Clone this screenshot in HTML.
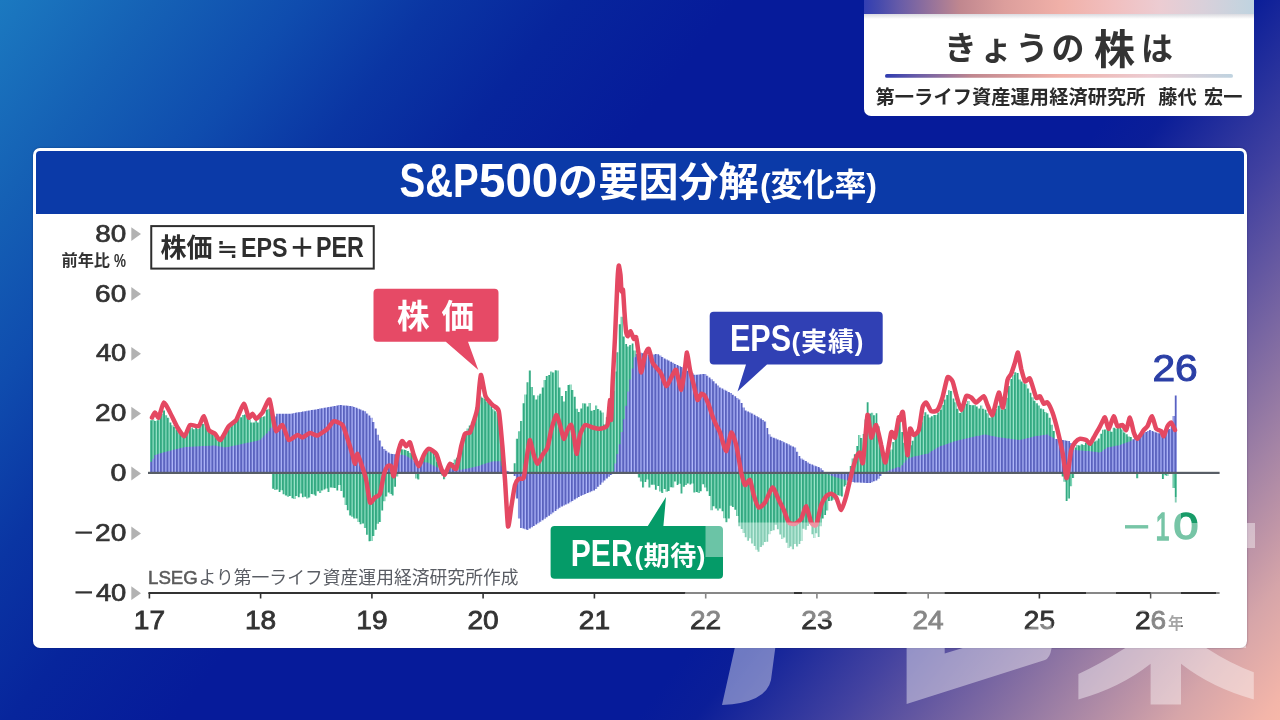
<!DOCTYPE html>
<html lang="ja">
<head>
<meta charset="utf-8">
<title>S&amp;P500の要因分解(変化率)</title>
<style>
html,body{margin:0;padding:0}
body{width:1280px;height:720px;overflow:hidden;position:relative;font-family:"Liberation Sans","Noto Sans CJK JP",sans-serif;
background:linear-gradient(128deg,#1b79c0 0%,#1561b5 8.5%,#0f4cae 16.4%,#0a35a3 23.7%,#07259c 31%,#061b9a 40%,#061b9a 65%,#0b1e98 68.2%,#26309c 72%,#4342a0 76%,#6357a1 80%,#8d74a3 85.3%,#a383a5 88%,#c297a7 91.8%,#d6a5a9 94.2%,#f3b5a9 99%,#f6b7a9 100%)}
.hdr{position:absolute;left:864px;top:0;width:390px;height:116px;background:#fff;border-radius:0 0 7px 7px;overflow:hidden}
.hdr .band{position:absolute;left:0;top:0;width:100%;height:14px;background:linear-gradient(90deg,#323eb3 0%,#4449ad 3.5%,#685ca8 9.2%,#c0878f 24.6%,#dc9e9c 36%,#f0b0a8 50.3%,#f1bfbf 64%,#ecccd2 75.9%,#d9d0da 87%,#c6d3de 96.4%,#bfd3e0 100%)}
.hdr .sh{position:absolute;left:0;top:14px;width:100%;height:5px;background:linear-gradient(180deg,rgba(120,120,140,.28),rgba(255,255,255,0))}
.panel{position:absolute;left:33px;top:148px;width:1213.5px;height:500px;background:#fff;border-radius:7px;box-shadow:0 0 2px rgba(0,8,60,.45)}
.panel .bar{position:absolute;left:3px;top:3px;right:3px;height:63px;background:#0b3aa8;border-radius:4px 4px 0 0}
.layer{position:absolute;left:0;top:0;will-change:transform}
</style>
</head>
<body>
<div class="hdr"><div class="band"></div><div class="sh"></div></div>
<div class="panel"><div class="bar"></div></div>
<svg class="layer" width="1280" height="720" viewBox="0 0 1280 720" font-family="'Liberation Sans', 'Noto Sans CJK JP', sans-serif">
<defs>
<pattern id="pb" x="150.4" y="0" width="3.21" height="8" patternUnits="userSpaceOnUse"><rect width="3.3" height="8" fill="#b0b7fa"/><rect width="2.0" height="8" fill="#5a62be"/></pattern>
<pattern id="pg" x="150.4" y="0" width="3.21" height="8" patternUnits="userSpaceOnUse"><rect width="3.3" height="8" fill="#9ee6cc"/><rect width="2.1" height="8" fill="#32a981"/></pattern>
<linearGradient id="ul" x1="0" x2="1" y1="0" y2="0"><stop offset="0" stop-color="#2e3bb0"/><stop offset="0.09" stop-color="#685ca8"/><stop offset="0.25" stop-color="#c0878f"/><stop offset="0.5" stop-color="#f0b0a8"/><stop offset="0.76" stop-color="#ecccd2"/><stop offset="1" stop-color="#bfd3e0"/></linearGradient>
</defs>
<rect x="885" y="74" width="348" height="3.8" rx="1.9" fill="url(#ul)"/>
<text transform="translate(95.3 241.6) scale(1.147 1)" font-size="24.29" font-weight="normal" fill="#333" stroke="#333" stroke-width="0.7">80</text>
<path d="M131.3 227.2L141 234.1L131.3 241z" fill="#b2b2b2"/>
<text transform="translate(95.1 301.5) scale(1.155 1)" font-size="24.29" font-weight="normal" fill="#333" stroke="#333" stroke-width="0.7">60</text>
<path d="M131.3 287L141 293.9L131.3 300.8z" fill="#b2b2b2"/>
<text transform="translate(95.9 361.3) scale(1.125 1)" font-size="24.29" font-weight="normal" fill="#333" stroke="#333" stroke-width="0.7">40</text>
<path d="M131.3 346.9L141 353.8L131.3 360.7z" fill="#b2b2b2"/>
<text transform="translate(95.1 421.2) scale(1.155 1)" font-size="24.29" font-weight="normal" fill="#333" stroke="#333" stroke-width="0.7">20</text>
<path d="M131.3 406.7L141 413.6L131.3 420.5z" fill="#b2b2b2"/>
<text transform="translate(110.4 481.1) scale(1.180 1)" font-size="24.29" font-weight="normal" fill="#333" stroke="#333" stroke-width="0.7">0</text>
<path d="M131.3 466.6L141 473.5L131.3 480.4z" fill="#b2b2b2"/>
<text transform="translate(95.1 540.9) scale(1.155 1)" font-size="24.29" font-weight="normal" fill="#333" stroke="#333" stroke-width="0.7">20</text>
<rect x="75.5" y="531.5" width="16.5" height="2.2" fill="#333"/>
<path d="M131.3 526.5L141 533.4L131.3 540.3z" fill="#b2b2b2"/>
<text transform="translate(95.9 600.8) scale(1.125 1)" font-size="24.29" font-weight="normal" fill="#333" stroke="#333" stroke-width="0.7">40</text>
<rect x="75.5" y="591.3" width="16.5" height="2.2" fill="#333"/>
<path d="M131.3 586.3L141 593.2L131.3 600.1z" fill="#b2b2b2"/>
<path fill="url(#pg)" d="M150 473V420.2H152.14V419.4H154.28V421.1H156.42V420.2H158.56V417.9H160.7V414.1H162.84V410.5H164.98V415.2H167.12V417.7H169.25V422.4H171.39V425.2H173.53V427.1H175.67V429.8H177.81V432.7H179.95V432.9H182.09V435.1H184.23V434.4H186.37V432.2H188.51V428.3H190.65V427.5H192.79V429.3H194.93V427.4H197.07V429.1H199.21V426H201.34V424H203.48V423.8H205.62V426.7H207.76V430.3H209.9V431.2H212.04V434.4H214.18V435.9H216.32V436.7H218.46V438.6H220.6V435.8H222.74V433.4H224.88V431.4H227.02V430.1H229.16V427.1H231.3V424.7H233.44V423.2H235.58V420.7H237.71V418.2H239.85V417.3H241.99V414.9H244.13V414.6H246.27V417.5H248.41V419.5H250.55V422.5H252.69V422.4H254.83V420.3H256.97V422.6H259.11V416.4H261.25V417.1H263.39V416.3H265.53V409.7H267.67V408.7H269.81V409.2H271.94V488.7H274.08V490H276.22V489.5H278.36V492.1H280.5V490.2H282.64V494.3H284.78V495.4H286.92V496.7H289.06V496H291.2V498.3H293.34V498.9H295.48V496.1H297.62V497.2H299.76V493.5H301.9V497.2H304.03V496.7H306.17V498.6H308.31V497.4H310.45V494H312.59V494.4H314.73V495.7H316.87V491.2H319.01V493.1H321.15V490.6H323.29V489.6H325.43V488.5H327.57V492.1H329.71V487.6H331.85V487.8H333.99V488.1H336.13V490.4H338.26V485.1H340.4V491.1H342.54V497.4H344.68V505.1H346.82V510.3H348.96V515.4H351.1V516.7H353.24V518.5H355.38V518.6H357.52V522.1H359.66V524.2H361.8V523.6H363.94V528.1H366.08V534.8H368.22V541.3H370.36V541.1H372.5V536H374.63V529.7H376.77V523.8H378.91V522H381.05V510.4H383.19V501.2H385.33V496.4H387.47V492.4H389.61V494.1H391.75V495.6H393.89V486.7H396.03V476.6H398.17V465.9H400.31V449.3H402.45V449.5H404.59V449.9H406.73V450.9H408.86V452.7H411V453.9H413.14V467.4H415.28V478.6H417.42V479.4H419.56V470.2H421.7V461H423.84V452.6H425.98V448.5H428.12V449.2H430.26V451.2H432.4V452.9H434.54V456.5H436.68V462H438.82V469.4H440.95V475.6H443.09V479.2H445.23V473zM447.4 473V469.6H449.51V466.3H451.65V463.1H453.79V459.5H455.93V457.7H458.07V454.8H460.21V447.6H462.35V439.6H464.49V432H466.63V428.5H468.77V425.4H470.91V421.7H473.05V416.3H475.19V407.4H477.32V399.7H479.46V396.4H481.6V397.7H483.74V399.1H485.88V402H488.02V403.1H490.16V406.3H492.3V409.3H494.44V411.2H496.58V413H498.72V414.3H500.86V445.6H503V468.8H505.14V473zM513.7 473V463.2H515.83V438.8H517.97V431.2H520.11V421H522.25V403.2H524.39V394.5H526.53V382.2H528.67V370.4H530.81V386.9H532.95V395.3H535.09V399.4H537.23V395.5H539.37V393.7H541.51V387.4H543.64V379.9H545.78V376.1H547.92V374.9H550.06V371.6H552.2V372.5H554.34V370.3H556.48V370.6H558.62V387.6H560.76V396H562.9V401.6H565.04V391H567.18V384.9H569.32V384.6H571.46V390H573.6V396.7H575.74V408.7H577.88V412.1H580.01V408.6H582.15V403.3H584.29V403.4H586.43V406.4H588.57V403H590.71V410.8H592.85V410.1H594.99V405.6H597.13V408.9H599.27V410.5H601.41V412.6H603.55V424.4H605.69V417.3H607.83V417.7H609.97V410.3H612.11V390.9H614.24V371.5H616.38V352.3H618.52V324.3H620.66V316.8H622.8V336.4H624.94V344H627.08V346.6H629.22V345.1H631.36V343.5H633.5V350.4H635.64V363.3H637.78V477.4H639.92V481.5H642.06V487.6H644.2V482H646.34V479.4H648.47V487.5H650.61V484.8H652.75V484.7H654.89V489.8H657.03V485.9H659.17V491.5H661.31V493.1H663.45V489.1H665.59V491.7H667.73V491H669.87V487.2H672.01V487.5H674.15V481.5H676.29V484.9H678.43V483.8H680.57V493.4H682.7V486.8H684.84V485H686.98V483.4H689.12V484.4H691.26V483.5H693.4V492.4H695.54V492.1H697.68V493H699.82V491.2H701.96V484.3H704.1V487.4H706.24V491.3H708.38V495.9H710.52V510.2H712.66V506.3H714.8V508.6H716.93V510.4H719.07V508.4H721.21V511.2H723.35V518.3H725.49V522.2H727.63V518.5H729.77V505.7H731.91V506.9H734.05V509.7H736.19V515.9H738.33V526.2H740.47V528.9H742.61V533H744.75V537.2H746.89V540.8H749.03V538.3H751.16V543.6H753.3V546.1H755.44V549.7H757.58V551.8H759.72V546.9H761.86V545.2H764V542.1H766.14V541.8H768.28V534.3H770.42V531.1H772.56V530.2H774.7V524.8H776.84V529.2H778.98V534.6H781.12V539.1H783.25V537.6H785.39V542.7H787.53V548H789.67V546.5H791.81V549.3H793.95V544H796.09V546.4H798.23V544H800.37V540.9H802.51V528.8H804.65V529.8H806.79V525.9H808.93V523.7H811.07V534.2H813.21V538.1H815.35V533.2H817.49V536.9H819.62V526.2H821.76V518.5H823.9V515H826.04V510.5H828.18V500.9H830.32V500.8H832.46V499.8H834.6V497.3H836.74V495.2H838.88V495.7H841.02V496.6H843.16V486.4H845.3V485.1H847.44V475.7H849.58V466.1H851.72V458.6H853.85V454.2H855.99V445.9H858.13V435H860.27V438.1H862.41V434.1H864.55V419.4H866.69V402.2H868.83V413.6H870.97V412.8H873.11V415.3H875.25V413.3H877.39V426.2H879.53V440.2H881.67V452.8H883.81V463.2H885.95V456.8H888.08V451.4H890.22V449.5H892.36V441.9H894.5V434.7H896.64V424.6H898.78V418.5H900.92V431.9H903.06V442.8H905.2V453.2H907.34V451.6H909.48V445.2H911.62V440.8H913.76V433.2H915.9V431.6H918.04V423.7H920.18V422.2H922.31V415.9H924.45V412.2H926.59V414.5H928.73V417.4H930.87V416.2H933.01V415H935.15V415.1H937.29V412.5H939.43V409.8H941.57V404.9H943.71V399.4H945.85V394.9H947.99V390.2H950.13V391.1H952.27V398.5H954.41V402.3H956.54V408.7H958.68V413.1H960.82V411.2H962.96V406.4H965.1V403.7H967.24V401H969.38V404.9H971.52V405.2H973.66V404.9H975.8V406.4H977.94V408.6H980.08V405.6H982.22V408.7H984.36V409.7H986.5V413.2H988.64V417.8H990.77V417H992.91V412.9H995.05V409.1H997.19V405.7H999.33V400.7H1001.47V409.8H1003.61V408.7H1005.75V397.7H1007.89V386.1H1010.03V379.1H1012.17V374.9H1014.31V372.2H1016.45V373.1H1018.59V379.6H1020.73V381.5H1022.87V383.3H1025V384.2H1027.14V388.5H1029.28V392.8H1031.42V397.2H1033.56V400.7H1035.7V403.2H1037.84V405.6H1039.98V408.4H1042.12V409.2H1044.26V412.1H1046.4V413.2H1048.54V417.8H1050.68V424.7H1052.82V431H1054.96V440.2H1057.1V456.1H1059.23V466.9H1061.37V476.6H1063.51V481.7H1065.65V500.9H1067.79V498.4H1069.93V486.3H1072.07V478H1074.21V447.4H1076.35V444.9H1078.49V445.4H1080.63V444.2H1082.77V444.9H1084.91V442.8H1087.05V441.8H1089.19V442.1H1091.33V441H1093.46V441.5H1095.6V440.4H1097.74V438.4H1099.88V433.7H1102.02V429.7H1104.16V429.4H1106.3V428.1H1108.44V428.5H1110.58V431.7H1112.72V427.7H1114.86V428.6H1117V426.9H1119.14V423.5H1121.28V429.5H1123.42V432.5H1125.56V434.3H1127.69V436.6H1129.83V436.9H1131.97V445H1134.11V473.4H1136.25V478.3H1138.39V473zM1155.5 473V473.8H1157.65V474H1159.79V473zM1161.9 473V479.1H1164.06V475.3H1166.2V476H1168.34V473zM1172.6 473V488H1174.76V502.5H1176.9V473z"/>
<path fill="url(#pb)" d="M150 473V461.8H152.14V458.7H154.28V454.9H156.42V454.3H158.56V453.6H160.7V453H162.84V452.3H164.98V451.7H167.12V451.2H169.25V450.7H171.39V450.1H173.53V449.6H175.67V449.1H177.81V448.5H179.95V448H182.09V447.5H184.23V447H186.37V446.9H188.51V446.8H190.65V446.7H192.79V446.6H194.93V446.5H197.07V446.3H199.21V446.2H201.34V446.1H203.48V446H205.62V445.9H207.76V445.8H209.9V445.7H212.04V445.6H214.18V445.6H216.32V446H218.46V446.4H220.6V446.8H222.74V447.3H224.88V447.3H227.02V446.9H229.16V446.5H231.3V446H233.44V445.6H235.58V445.2H237.71V444.7H239.85V444.3H241.99V443.8H244.13V443.3H246.27V442.8H248.41V442.4H250.55V441.9H252.69V441.4H254.83V440.9H256.97V440.4H259.11V439.8H261.25V437.7H263.39V435.5H265.53V433.4H267.67V431.3H269.81V427.7H271.94V422.2H274.08V416.6H276.22V413.8H278.36V413.8H280.5V413.8H282.64V413.8H284.78V413.8H286.92V413.8H289.06V413.7H291.2V413.4H293.34V413H295.48V412.6H297.62V412.3H299.76V411.9H301.9V411.5H304.03V411.2H306.17V410.8H308.31V410.5H310.45V410.1H312.59V409.7H314.73V409.4H316.87V409H319.01V408.6H321.15V408.2H323.29V407.8H325.43V407.4H327.57V407H329.71V406.7H331.85V406.3H333.99V405.9H336.13V405.5H338.26V405.1H340.4V405.1H342.54V405.4H344.68V405.6H346.82V405.8H348.96V406H351.1V406.2H353.24V407H355.38V407.8H357.52V408.7H359.66V409.5H361.8V410.4H363.94V411.3H366.08V413.4H368.22V415.5H370.36V417.7H372.5V421.9H374.63V428.4H376.77V434.7H378.91V440.6H381.05V446.5H383.19V449H385.33V450.8H387.47V452.5H389.61V453.8H391.75V454H393.89V454.2H396.03V454.3H398.17V454.5H400.31V454.7H402.45V454.9H404.59V455.4H406.73V456.7H408.86V458.1H411V459.4H413.14V460.8H415.28V461.4H417.42V461.6H419.56V461.8H421.7V462H423.84V462.2H425.98V462.5H428.12V463.3H430.26V464.4H432.4V465.5H434.54V466.6H436.68V467.6H438.82V468.7H440.95V469.8H443.09V469.7H445.23V469.4H447.37V469H449.51V468.8H451.65V469.1H453.79V469.4H455.93V469.6H458.07V469.9H460.21V469.7H462.35V469.3H464.49V468.8H466.63V468.4H468.77V467.9H470.91V467.4H473.05V467H475.19V466.5H477.32V466H479.46V465.2H481.6V464.5H483.74V463.8H485.88V463.1H488.02V462.4H490.16V461.7H492.3V461.2H494.44V461.2H496.58V461.2H498.72V461.2H500.86V465.7H503V470.1H505.14V470.7H507.28V471.3H509.42V471.9H511.55V472.5H513.69V475.9H515.83V498.6H517.97V518.6H520.11V527.9H522.25V528.6H524.39V529.3H526.53V529.9H528.67V528.6H530.81V527.3H532.95V525.9H535.09V524.6H537.23V523.2H539.37V521.7H541.51V520.2H543.64V518.7H545.78V517.2H547.92V515.7H550.06V514.2H552.2V512.5H554.34V510.9H556.48V509.3H558.62V507.7H560.76V506.6H562.9V505.5H565.04V504.4H567.18V503.4H569.32V502.3H571.46V500.9H573.6V499.6H575.74V498.2H577.88V496.9H580.01V495.8H582.15V494.9H584.29V494H586.43V493.1H588.57V492.2H590.71V491.3H592.85V490.4H594.99V488.9H597.13V486.8H599.27V484.7H601.41V482.5H603.55V480.4H605.69V478.5H607.83V476.8H609.97V475H612.11V471.4H614.24V463.6H616.38V454H618.52V444.3H620.66V432.1H622.8V419.3H624.94V405.8H627.08V391.5H629.22V379.5H631.36V368.4H633.5V357.2H635.64V354.1H637.78V353.1H639.92V352.7H642.06V353.3H644.2V353.8H646.34V354.4H648.47V354.9H650.61V354.7H652.75V354.4H654.89V354H657.03V354.2H659.17V355.6H661.31V357H663.45V358.4H665.59V359.6H667.73V360.6H669.87V361.7H672.01V362.8H674.15V363.9H676.29V364.9H678.43V366H680.57V367.1H682.7V368.1H684.84V369.3H686.98V370.7H689.12V372H691.26V373.3H693.4V374.7H695.54V374.8H697.68V374.5H699.82V374.3H701.96V374H704.1V373.9H706.24V375.7H708.38V377.5H710.52V379.2H712.66V381.2H714.8V383.4H716.93V385.5H719.07V387.6H721.21V388.6H723.35V389.7H725.49V390.8H727.63V391.9H729.77V393.1H731.91V394.7H734.05V396.3H736.19V397.9H738.33V399.5H740.47V403.1H742.61V407.4H744.75V410.4H746.89V411.5H749.03V412.5H751.16V413.6H753.3V414.7H755.44V415.9H757.58V417.3H759.72V418.6H761.86V420H764V421.5H766.14V427.9H768.28V434.3H770.42V436.8H772.56V437.7H774.7V438.6H776.84V439.4H778.98V440.3H781.12V441.1H783.25V442.2H785.39V443.2H787.53V444.3H789.67V445.4H791.81V446.4H793.95V447.5H796.09V451.8H798.23V456.1H800.37V458.4H802.51V459.7H804.65V461.1H806.79V462.4H808.93V463.7H811.07V464.6H813.21V465.4H815.35V466.2H817.49V467H819.62V468.2H821.76V470.3H823.9V472.5H826.04V473.6H828.18V474.6H830.32V475.7H832.46V476.6H834.6V477.2H836.74V477.8H838.88V478.5H841.02V479.1H843.16V479.8H845.3V480.3H847.44V480.9H849.58V481.4H851.72V481.9H853.85V482.5H855.99V482.6H858.13V482.6H860.27V482.7H862.41V482.8H864.55V482.9H866.69V482.9H868.83V483H870.97V482.2H873.11V481.3H875.25V480.5H877.39V478.8H879.53V476.1H881.67V473.6H883.81V472.6H885.95V471.5H888.08V470.4H890.22V469.5H892.36V468.7H894.5V467.9H896.64V467.1H898.78V467.4H900.92V465.2H903.06V462.7H905.2V460.2H907.34V458.4H909.48V457.7H911.62V457H913.76V456.3H915.9V455.9H918.04V455.4H920.18V455H922.31V454.6H924.45V454.1H926.59V453.7H928.73V452.4H930.87V451.1H933.01V449.8H935.15V448.5H937.29V447.2H939.43V446.1H941.57V445.4H943.71V444.7H945.85V443.9H947.99V443.2H950.13V442.5H952.27V441.8H954.41V441.1H956.54V440.6H958.68V440.1H960.82V439.5H962.96V439H965.1V438.5H967.24V437.9H969.38V437.4H971.52V437H973.66V436.6H975.8V436.1H977.94V435.7H980.08V435.3H982.22V434.8H984.36V434.6H986.5V435H988.64V435.4H990.77V435.9H992.91V436.3H995.05V436.7H997.19V437.2H999.33V437.6H1001.47V437.8H1003.61V438.1H1005.75V438.4H1007.89V438.6H1010.03V438.9H1012.17V439.2H1014.31V439.4H1016.45V439.7H1018.59V440H1020.73V439.6H1022.87V439H1025V438.5H1027.14V437.9H1029.28V437.4H1031.42V436.9H1033.56V436.3H1035.7V436H1037.84V435.7H1039.98V435.4H1042.12V435.1H1044.26V434.8H1046.4V434.5H1048.54V435.7H1050.68V436.9H1052.82V438.1H1054.96V438.9H1057.1V439.3H1059.23V439.6H1061.37V440H1063.51V440.3H1065.65V440.7H1067.79V441.1H1069.93V443H1072.07V446.7H1074.21V450H1076.35V450.2H1078.49V450.4H1080.63V450.6H1082.77V450.7H1084.91V450.9H1087.05V451.1H1089.19V451.3H1091.33V451.5H1093.46V451.8H1095.6V452.1H1097.74V452.4H1099.88V451.9H1102.02V450.4H1104.16V449H1106.3V447.6H1108.44V447.1H1110.58V446.7H1112.72V446.2H1114.86V445.8H1117V445.4H1119.14V444.9H1121.28V444.1H1123.42V443.3H1125.56V442.5H1127.69V441.7H1129.83V440.7H1131.97V439.3H1134.11V438H1136.25V436.7H1138.39V435.3H1140.53V434.2H1142.67V433.1H1144.81V432.1H1146.95V431H1149.09V430.1H1151.23V430.9H1153.37V431.7H1155.51V432.5H1157.65V433.3H1159.79V433.3H1161.92V432.3H1164.06V431.2H1166.2V430.1H1168.34V429H1170.48V424.1H1172.62V416H1174.76V395.5H1176.9V473z"/>
<rect x="148" y="471.8" width="1071.6" height="2.2" fill="#585e66"/>
<rect x="148.4" y="592" width="1071.2" height="2" fill="#333"/>
<rect x="148.6" y="593" width="1.6" height="5.5" fill="#333"/>
<text transform="translate(133.8 629.4) scale(1.087 1)" font-size="25.85" fill="#333" stroke="#333" stroke-width="0.8">17</text>
<rect x="259.8" y="593" width="1.6" height="5.5" fill="#333"/>
<text transform="translate(245 629.4) scale(1.087 1)" font-size="25.85" fill="#333" stroke="#333" stroke-width="0.8">18</text>
<rect x="371.1" y="593" width="1.6" height="5.5" fill="#333"/>
<text transform="translate(356.3 629.4) scale(1.087 1)" font-size="25.85" fill="#333" stroke="#333" stroke-width="0.8">19</text>
<rect x="482.3" y="593" width="1.6" height="5.5" fill="#333"/>
<text transform="translate(467.5 629.4) scale(1.087 1)" font-size="25.85" fill="#333" stroke="#333" stroke-width="0.8">20</text>
<rect x="593.6" y="593" width="1.6" height="5.5" fill="#333"/>
<text transform="translate(578.8 629.4) scale(1.087 1)" font-size="25.85" fill="#333" stroke="#333" stroke-width="0.8">21</text>
<rect x="704.9" y="593" width="1.6" height="5.5" fill="#333"/>
<text transform="translate(690 629.4) scale(1.087 1)" font-size="25.85" fill="#333" stroke="#333" stroke-width="0.8">22</text>
<rect x="816.1" y="593" width="1.6" height="5.5" fill="#333"/>
<text transform="translate(801.3 629.4) scale(1.087 1)" font-size="25.85" fill="#333" stroke="#333" stroke-width="0.8">23</text>
<rect x="927.4" y="593" width="1.6" height="5.5" fill="#333"/>
<text transform="translate(912.5 629.4) scale(1.087 1)" font-size="25.85" fill="#333" stroke="#333" stroke-width="0.8">24</text>
<rect x="1038.6" y="593" width="1.6" height="5.5" fill="#333"/>
<text transform="translate(1023.8 629.4) scale(1.087 1)" font-size="25.85" fill="#333" stroke="#333" stroke-width="0.8">25</text>
<rect x="1149.9" y="593" width="1.6" height="5.5" fill="#333"/>
<text transform="translate(1135 629.4) scale(1.087 1)" font-size="25.85" fill="#333" stroke="#333" stroke-width="0.8">26</text>
<text x="1168" y="629.4" font-size="15.5" font-weight="bold" fill="#666">年</text>
<path fill="none" stroke="#e44862" stroke-width="4.5" stroke-linejoin="round" stroke-linecap="round" d="M152 417.5C152.3 417 154.3 412.5 155 412.5C155.7 412.5 157.9 418.5 158.8 417.5C159.6 416.5 162.6 403 163.8 402.5C164.9 402 168.6 410 170 412.5C171.4 415 176.1 425.1 177.5 427.5C178.9 429.9 183.2 436.5 184.5 436.2C185.8 436 188.6 426 190 425C191.4 424 197.4 427.1 198.8 426.2C200.1 425.4 202.8 415.9 203.8 416.2C204.8 416.6 207.6 428.2 208.8 430C209.9 431.8 213.8 432.8 215 433.8C216.2 434.8 219.1 440.8 220.5 440C221.9 439.2 227.2 428.2 228.8 426.2C230.3 424.2 234.8 422.2 236.2 420C237.8 417.8 242.5 404 243.8 403.8C245 403.5 247.9 416.5 248.8 417.5C249.6 418.5 251.8 413.6 252.5 413.8C253.2 413.9 255.2 418.9 256.2 418.8C257.2 418.6 261.2 414.4 262.5 412.5C263.8 410.6 268.4 398.5 269.5 399.5C270.6 400.5 273.1 419.3 273.8 422.5C274.4 425.7 275.4 431 276.2 431.2C277.1 431.5 281.2 424.1 282.5 425C283.8 425.9 287.2 439 288.8 440C290.2 441 296.1 435.2 297.5 435C298.9 434.8 301.2 437.7 302.5 437.5C303.8 437.3 308.5 433.2 310 433C311.5 432.8 315.8 435.9 317.5 435.5C319.2 435.1 325.9 430.2 327.5 428.8C329.1 427.3 332.2 421.6 333.8 421.2C335.2 420.9 341.1 423.2 342.5 425C343.9 426.8 346.5 435.8 347.5 438.8C348.5 441.8 351.8 452.5 352.5 455C353.2 457.5 354.5 463.9 355 463.8C355.5 463.6 356.8 453.4 357.5 453.8C358.2 454.1 361.6 464.9 362.5 467.5C363.4 470.1 365.5 476.5 366.2 480C367 483.5 369.1 500.8 370 502.5C370.9 504.2 374 498.4 375 497.5C376 496.6 379.1 496 380 493.8C380.9 491.5 383 477.8 383.8 475C384.5 472.2 386.8 467.1 387.5 466.2C388.2 465.4 390.6 465.2 391.2 466.2C391.9 467.2 393.1 477.4 393.8 476.2C394.4 475.1 396.7 458.5 397.5 455C398.3 451.5 401.1 442.1 402 441.2C402.9 440.4 405.4 446.1 406.2 446.2C407.1 446.4 409.2 441.6 410 442.5C410.8 443.4 412.9 452.6 413.8 455C414.6 457.4 417.8 466.2 418.8 466.2C419.8 466.2 422.8 456.8 423.8 455C424.8 453.2 427.5 448.9 428.8 448.8C430 448.6 435.1 452.1 436.2 453.8C437.4 455.4 439.2 462.9 440 465C440.8 467.1 443.5 475.1 444.5 475C445.5 474.9 448.8 464.4 450 463.8C451.2 463.1 455.1 470.5 456.2 468.8C457.4 467 460.4 449.8 461.2 446.2C462.1 442.8 464.1 435.1 465 433.8C465.9 432.4 469.1 433.8 470 432.5C470.9 431.2 473 423.8 473.8 421.2C474.5 418.8 476.8 412.1 477.5 407.5C478.2 402.9 479.9 376.1 480.8 375C481.6 373.9 484.3 393.2 485.5 396.2C486.7 399.2 491.2 403.5 492.5 405C493.8 406.5 497.8 407 498.8 411.2C499.8 415.5 501.9 440.6 502.5 447.5C503.1 454.4 504.4 472.1 505 480C505.6 487.9 507.4 523.5 508 526.2C508.6 529 510.6 511.6 511.2 507.5C511.9 503.4 514.2 487.9 515 485C515.8 482.1 517.9 479.5 518.8 478.8C519.6 478 522.9 480.1 523.8 477.5C524.6 474.9 526.9 456.2 527.5 452.5C528.1 448.8 529.4 439.8 530 440C530.6 440.2 533 452.6 533.8 455C534.5 457.4 536.6 463.8 537.5 463.8C538.4 463.8 541.5 456.6 542.5 455C543.5 453.4 546.6 450 547.5 447.5C548.4 445 550.4 433.2 551.2 430C552.1 426.8 555.4 415.5 556.2 415C557.1 414.5 559.2 422.6 560 425C560.8 427.4 563 438.2 563.8 438.8C564.5 439.2 566.8 431.4 567.5 430C568.2 428.6 570.5 424 571.2 425C572 426 574 437.1 574.5 440C575 442.9 576.2 454.2 576.8 453.8C577.3 453.2 579.2 437.9 580 435C580.8 432.1 583.8 425.8 585 425C586.2 424.2 591 427.1 592.5 427.5C594 427.9 598.5 429 600 428.8C601.5 428.5 606.5 427.9 607.5 425C608.5 422.1 609.6 400.5 610 400C610.4 399.5 611 421.5 611.2 420C611.5 418.5 612.1 393.2 612.5 385C612.9 376.8 614.5 348 615 337.5C615.5 327 617.1 287.2 617.5 280C617.9 272.8 618.5 266 618.8 265.5C619 265 620.2 272.4 620.5 275C620.8 277.6 621.2 289.8 621.5 291.2C621.8 292.8 622.7 287.9 623 290C623.3 292.1 624.2 308.2 624.5 312.5C624.8 316.8 625.9 330.1 626.2 332.5C626.6 334.9 627.6 336.4 628 336.2C628.4 336.1 629.9 331 630.5 331.2C631.1 331.5 633.2 338.1 633.8 338.8C634.3 339.4 635.8 335.9 636.2 337.5C636.8 339.1 638.2 351.5 638.8 355C639.2 358.5 640.6 372.5 641.2 372.5C641.9 372.5 644.2 357.4 645 355C645.8 352.6 648 348 648.8 348.8C649.5 349.5 651.8 360.6 652.5 362.5C653.2 364.4 655.4 366.4 656.2 367.5C657.1 368.6 660.2 371.9 661.2 373.8C662.2 375.6 665.1 386.1 666.2 386.2C667.4 386.4 671.5 376.6 672.5 375C673.5 373.4 675.4 368.5 676.2 370C677.1 371.5 680.4 390.2 681.2 390C682.1 389.8 684.4 371.2 685 367.5C685.6 363.8 686.5 352.2 687 352.5C687.5 352.8 689.3 366.8 690 370C690.7 373.2 693 382 693.8 385C694.5 388 696.8 399.1 697.5 400C698.2 400.9 700.5 394.1 701.2 393.8C702 393.4 704.2 395.1 705 396.2C705.8 397.4 708 403 708.8 405C709.5 407 711.8 414.2 712.5 416.2C713.2 418.2 715.5 423.4 716.2 425C717 426.6 719 429.9 720 432.5C721 435.1 725.1 451.2 726.2 451.2C727.4 451.2 730.2 433.1 731.2 432.5C732.2 431.9 735.2 441 736.2 445C737.2 449 740.4 468.5 741.2 472.5C742.1 476.5 744.1 484.2 745 485C745.9 485.8 749.1 479 750 480C750.9 481 752.9 492.2 753.8 495C754.6 497.8 757.6 506.8 758.8 507.5C759.9 508.2 763.6 504.5 765 502.5C766.4 500.5 771.1 487.8 772.5 487.5C773.9 487.2 777.6 497.8 778.8 500C779.9 502.2 782.8 507.8 783.8 510C784.8 512.2 787.6 521.1 788.8 522.5C789.9 523.9 793.8 524.1 795 523.8C796.2 523.4 800.1 520.5 801.2 518.8C802.4 517 805.2 505.9 806.2 506.2C807.2 506.6 810.2 520.6 811.2 522.5C812.2 524.4 815.2 526.8 816.2 525C817.2 523.2 820.2 507.9 821.2 505C822.2 502.1 825.2 497.4 826.2 496.2C827.2 495.1 830.2 493.6 831.2 493.8C832.2 493.9 835.2 495.9 836.2 497.5C837.2 499.1 840.2 510.1 841.2 510C842.2 509.9 845.2 499.8 846.2 496.2C847.2 492.8 850.2 478.9 851.2 475C852.2 471.1 855.4 459.8 856.2 457.5C857.1 455.2 859.3 452 860 452.5C860.7 453 862.2 466.2 863 462.5C863.8 458.8 866.7 417.5 867.5 415C868.3 412.5 870.4 436.5 871.2 437.5C872.1 438.5 875.2 424.2 876.2 425C877.2 425.8 880.3 441.2 881.2 445C882.2 448.8 884.5 463.8 885.5 462.5C886.5 461.2 890.3 435 891.2 432.5C892.2 430 894.2 439 895 437.5C895.8 436 898.2 419.2 898.8 417.5C899.2 415.8 899.6 420.5 900 420C900.4 419.5 902.2 409 903 412.5C903.8 416 906.8 453.4 907.5 455C908.2 456.6 909.4 430.8 910 428.8C910.6 426.8 912.9 434.9 913.8 435C914.6 435.1 917.9 432.8 918.8 430C919.6 427.2 921.8 410.2 922.5 407.5C923.2 404.8 925.4 402.1 926.2 402.5C927.1 402.9 930.1 410.5 931.2 411.2C932.4 412 936.4 411.4 937.5 410C938.6 408.6 941.5 400.8 942.5 397.5C943.5 394.2 946.5 379.1 947.5 377.5C948.5 375.9 951.6 379.5 952.5 381.2C953.4 383 955.4 392.1 956.2 395C957.1 397.9 960.2 409.9 961.2 410C962.2 410.1 965.2 397.5 966.2 396.2C967.2 395 970.2 396.9 971.2 397.5C972.2 398.1 975 402.6 976.2 402.5C977.5 402.4 982.6 396 983.8 396.2C984.9 396.5 986.6 403.1 987.5 405C988.4 406.9 991.4 416.2 992.5 415C993.6 413.8 997.7 393.2 998.8 392.5C999.8 391.8 1002.1 408.8 1003 407.5C1003.9 406.2 1006.7 383.4 1007.5 380C1008.3 376.6 1010.5 375.5 1011.2 373.8C1012 372 1014.3 364.6 1015 362.5C1015.7 360.4 1017.4 351.9 1018 352.5C1018.6 353.1 1020.5 365.9 1021.2 368.8C1022 371.6 1024.1 380.2 1025 381.2C1025.9 382.2 1028.9 377.1 1030 378.8C1031.1 380.4 1035.2 395.8 1036.2 397.5C1037.2 399.2 1039.2 395.6 1040 396.2C1040.8 396.9 1043 403.1 1043.8 403.8C1044.5 404.4 1046.6 401.6 1047.5 402.5C1048.4 403.4 1051.5 409.8 1052.5 412.5C1053.5 415.2 1056.5 426 1057.5 430C1058.5 434 1061.6 447.8 1062.5 452.5C1063.4 457.2 1065.7 475.5 1066.2 477.5C1066.8 479.5 1067.5 475.2 1068 472.5C1068.5 469.8 1070.5 453 1071.2 450C1072 447 1074.1 443.6 1075 442.5C1075.9 441.4 1078.9 439 1080 438.8C1081.1 438.5 1085.2 439.5 1086.2 440C1087.2 440.5 1089.2 444 1090 443.8C1090.8 443.5 1092.9 439 1093.8 437.5C1094.6 436 1097.9 430.2 1098.8 428.8C1099.6 427.2 1101.4 423.6 1102 422.5C1102.6 421.4 1104.3 416.9 1105 417.5C1105.7 418.1 1107.9 428.9 1108.8 428.8C1109.6 428.6 1112.9 416.5 1113.8 416.2C1114.6 416 1116.6 425.4 1117.5 426.2C1118.4 427.1 1121.6 424.6 1122.5 425C1123.4 425.4 1125.5 430.8 1126.2 430C1127 429.2 1129.2 417.2 1130 417.5C1130.8 417.8 1133 430.4 1133.8 432.5C1134.5 434.6 1136.5 439 1137.5 438.8C1138.5 438.5 1142.8 431.2 1143.8 430C1144.8 428.8 1146.7 427.6 1147.5 426.2C1148.3 424.9 1151.1 416 1152 416.2C1152.9 416.5 1155.3 427.2 1156.2 428.8C1157.2 430.2 1160.5 430.5 1161.2 431.2C1162 432 1163.1 436.8 1163.8 436.2C1164.4 435.8 1166.8 427.6 1167.5 426.2C1168.2 424.9 1170.5 422.1 1171.2 422.5C1172 422.9 1174.6 429.2 1175 430"/>
<rect x="151.25" y="226.1" width="222.5" height="42.5" fill="#fff" stroke="#2e2e2e" stroke-width="2"/>
<text x="160.5" y="257" font-size="26" font-weight="bold" fill="#2e2e2e">株価</text>
<text x="227.5" y="257" font-size="26" font-weight="bold" text-anchor="middle" fill="#2e2e2e">≒</text>
<text transform="translate(240.9 256.5) scale(0.822 1)" font-size="28.32" font-weight="bold" fill="#2e2e2e">EPS</text>
<text x="302" y="257" font-size="26" font-weight="bold" text-anchor="middle" fill="#2e2e2e">＋</text>
<text transform="translate(315.9 256.8) scale(0.800 1)" font-size="29.14" font-weight="bold" fill="#2e2e2e">PER</text>
<text x="61.5" y="266" font-size="16.2" font-weight="bold" fill="#333">前年比</text>
<text transform="translate(113.9 266.5) scale(0.708 1)" font-size="19.04" font-weight="bold" fill="#333">%</text>
<text transform="translate(148 584.3) scale(1.019 1)" font-size="18.36" font-weight="normal" fill="#5a5a5a" stroke="#5a5a5a" stroke-width="0.5">LSEG</text>
<text x="198.5" y="584.3" font-size="17.75" textLength="320" fill="#595c63">より第一ライフ資産運用経済研究所作成</text>
<path fill="#e64a66" d="M377.5 288.7h117a4 4 0 0 1 4 4v45a4 4 0 0 1-4 4h-26.5L478.3 370 445.8 341.7h-68.3a4 4 0 0 1-4-4v-45a4 4 0 0 1 4-4z"/>
<text x="397" y="327.5" font-size="32.5" font-weight="bold" fill="#fff">株</text>
<text x="441.5" y="327.5" font-size="32.5" font-weight="bold" fill="#fff">価</text>
<path fill="#3040b4" d="M713.7 311.7h165a4 4 0 0 1 4 4v44.7a4 4 0 0 1-4 4h-111.7L737.5 391.4 746 364.4h-32.3a4 4 0 0 1-4-4v-44.7a4 4 0 0 1 4-4z"/>
<text transform="translate(730 351.2) scale(0.812 1)" font-size="37.57" font-weight="bold" fill="#fff">EPS</text>
<text x="791.5" y="351" font-size="26" font-weight="bold" textLength="72" fill="#fff">(実績)</text>
<path fill="#059b68" d="M554.6 526h93.2L666 497l-2.6 29h55.6a4 4 0 0 1 4 4v44.7a4 4 0 0 1-4 4h-164.4a4 4 0 0 1-4-4v-44.7a4 4 0 0 1 4-4z"/>
<text transform="translate(570.8 566) scale(0.796 1)" font-size="37.79" font-weight="bold" fill="#fff">PER</text>
<text x="634.5" y="565" font-size="26" font-weight="bold" textLength="71" fill="#fff">(期待)</text>
<text transform="translate(1152.4 380.6) scale(1.110 1)" font-size="36.72" font-weight="normal" fill="#2b3fa6" stroke="#2b3fa6" stroke-width="1.0">26</text>
<text transform="translate(1155.6 540) scale(0.657 1)" font-size="38.81" font-weight="normal" fill="#189c69" stroke="#189c69" stroke-width="1.5">1</text>
<text transform="translate(1173.6 539.3) scale(1.214 1)" font-size="36.86" font-weight="normal" fill="#189c69" stroke="#189c69" stroke-width="1.5">0</text>
<rect x="1125" y="525.1" width="23.2" height="3.4" fill="#189c69"/>
<text transform="translate(399.5 196.8) scale(0.813 1)" font-size="47.32" font-weight="bold" fill="#fff">S&amp;P</text>
<text transform="translate(479.1 196.8) scale(1.003 1)" font-size="47.32" font-weight="bold" fill="#fff">500</text>
<text x="558" y="196" font-size="40" font-weight="bold" fill="#fff">の</text>
<text x="598.5" y="196" font-size="40" font-weight="bold" textLength="160" fill="#fff">要因分解</text>
<text x="760" y="196" font-size="32" font-weight="bold" textLength="117" fill="#fff">(変化率)</text>
<text x="944" y="60" font-size="33" font-weight="bold" letter-spacing="2.8" fill="#333">きょうの</text>
<text x="1094" y="63.5" font-size="41" font-weight="bold" fill="#333">株</text>
<text x="1141" y="60" font-size="32" font-weight="bold" fill="#333">は</text>
<text x="875.5" y="103.7" font-size="19.2" font-weight="bold" textLength="270" fill="#2a2a2a">第一ライフ資産運用経済研究所</text>
<text x="1158.3" y="103.7" font-size="19.2" font-weight="bold" fill="#2a2a2a">藤代</text>
<text x="1204" y="103.7" font-size="19.2" font-weight="bold" fill="#2a2a2a">宏一</text>
</svg>
<svg class="layer" width="1280" height="720" viewBox="0 0 1280 720" role="img" aria-label="テレ東">
<g fill="#fff" fill-opacity="0.41">
<path d="M705.5 522.5H838V557H705.5z"/>
<path d="M688 583H794V620H779L771 680Q766 703 722 705L741 620H677zM802 583H874V620H802z"/>
<path d="M906.6 522.5H944.7V653.4L1051.6 621V648Q1050 658 1045 660L906.6 704z"/>
<path d="M1150.6 497H1181V523H1255V548H1181V560H1246V648H1206.3Q1231 664 1253.8 672.2V699.4Q1212 688 1181 663.8V704.6H1150.6V663.8Q1120 688 1078.4 699.4V674Q1100 664 1125.3 648H1086V560H1150.6V548H1076V523H1150.6zM1116 580V600H1150.6V580zM1181 580V600H1216V580zM1116 612V632H1150.6V612zM1181 612V632H1216V632z" fill-rule="evenodd"/>
</g></svg>
</body>
</html>
